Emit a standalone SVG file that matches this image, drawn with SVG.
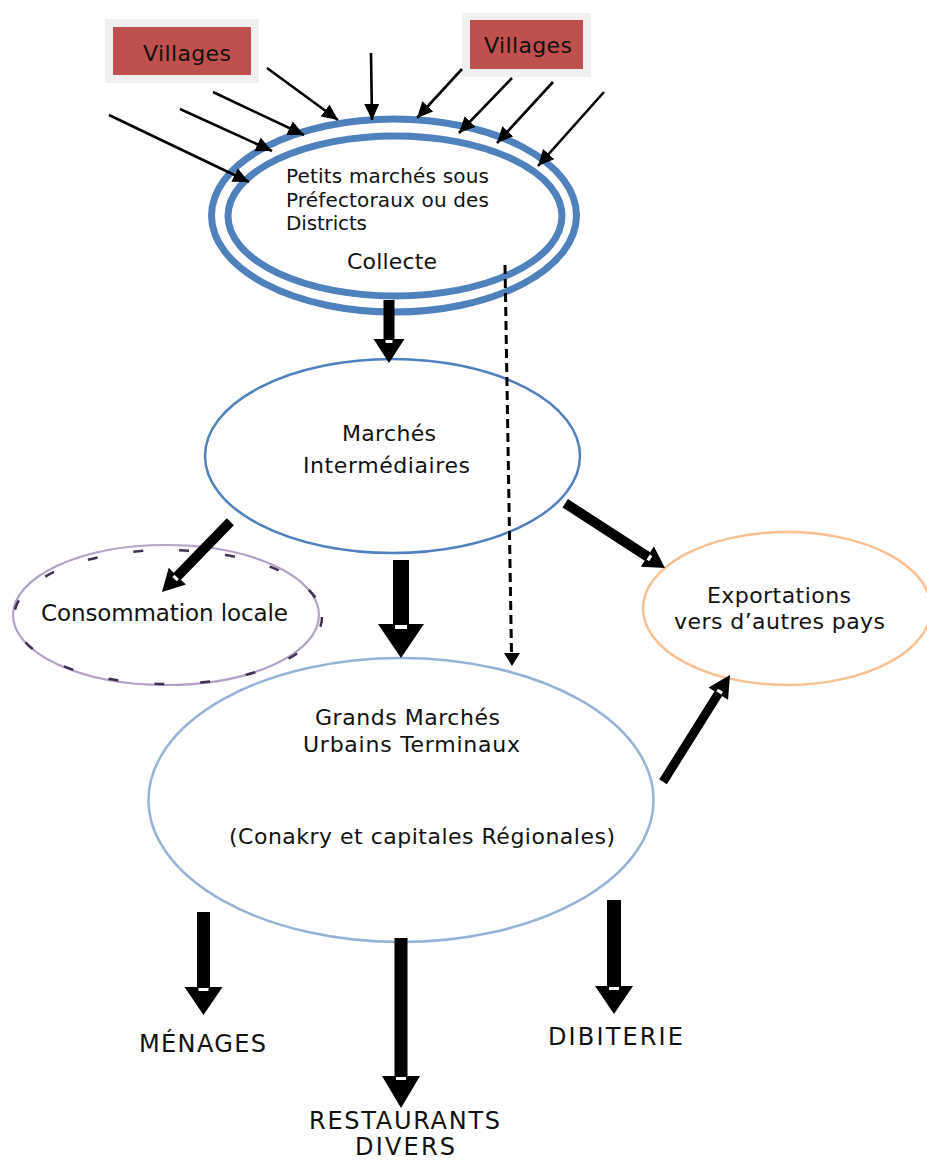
<svg xmlns="http://www.w3.org/2000/svg" width="927" height="1160" viewBox="0 0 927 1160">
<style>
text{font-family:"DejaVu Sans","Liberation Sans",sans-serif;fill:#111;}
.thin{stroke:#000;stroke-width:2.6;fill:none;}
.blk{fill:#000;}
.wm{fill:#fff;}
</style>
<defs>
<marker id="ah" markerUnits="userSpaceOnUse" markerWidth="20" markerHeight="18" refX="16" refY="7.5" orient="auto">
<path d="M0,0 L16,7.5 L0,15 Z" fill="#000"/>
</marker>
</defs>
<rect width="927" height="1160" fill="#fff"/>

<g id="villages1">
<rect x="105" y="19" width="154" height="64" fill="#f0f0f0"/>
<rect x="113" y="27" width="138" height="48" fill="#c0504d"/>
<text x="143" y="61" font-size="22" textLength="88">Villages</text>
</g>
<g id="villages2">
<rect x="462" y="13" width="129" height="64" fill="#f0f0f0"/>
<rect x="470" y="20" width="113" height="49" fill="#c0504d"/>
<text x="484" y="53" font-size="22" textLength="88">Villages</text>
</g>

<g id="collecte">
<ellipse cx="394" cy="215.5" rx="182.5" ry="96.5" fill="#fff" stroke="#4f81bd" stroke-width="7"/>
<ellipse cx="395" cy="216" rx="167" ry="80" fill="#fff" stroke="#4f81bd" stroke-width="7"/>
<text x="286" y="183" font-size="20" textLength="203">Petits marchés sous</text>
<text x="286" y="207" font-size="20" textLength="203">Préfectoraux ou des</text>
<text x="286" y="230" font-size="20" textLength="81">Districts</text>
<text x="347" y="269" font-size="22" textLength="90">Collecte</text>
</g>

<g id="intermediaires">
<ellipse cx="392.5" cy="456" rx="187.5" ry="97" fill="#fff" stroke="#4f81bd" stroke-width="2.5"/>
<text x="342" y="441" font-size="22" textLength="94">Marchés</text>
<text x="303" y="473" font-size="22" textLength="167">Intermédiaires</text>
</g>

<g id="consommation">
<ellipse cx="166" cy="615" rx="153" ry="70" fill="#fff" stroke="#b3a2c7" stroke-width="2.2"/>
<ellipse cx="168" cy="617" rx="154" ry="67" fill="none" stroke="#3f3151" stroke-width="2.5" stroke-dasharray="10 36"/>
<text x="41" y="621" font-size="23" textLength="247">Consommation locale</text>
</g>

<g id="exportations">
<ellipse cx="787" cy="608.5" rx="144" ry="76.5" fill="#fff" stroke="#fac090" stroke-width="2.5"/>
<text x="707" y="603" font-size="22" textLength="144">Exportations</text>
<text x="674" y="629" font-size="22" textLength="211">vers d’autres pays</text>
</g>

<g id="grands">
<ellipse cx="401" cy="800" rx="252.5" ry="142" fill="#fff" stroke="#95b3d7" stroke-width="2.5"/>
<text x="315" y="725" font-size="22" textLength="185">Grands Marchés</text>
<text x="303" y="752" font-size="22" textLength="217">Urbains Terminaux</text>
<text x="229" y="844" font-size="22" textLength="386">(Conakry et capitales Régionales)</text>
</g>

<g id="menages"><text x="139" y="1052" font-size="24" textLength="127">MÉNAGES</text></g>
<g id="restaurants">
<text x="309" y="1129" font-size="24" textLength="191">RESTAURANTS</text>
<text x="355" y="1155" font-size="24" textLength="100">DIVERS</text>
</g>
<g id="dibiterie"><text x="548" y="1045" font-size="24" textLength="135">DIBITERIE</text></g>

<g id="connectors">
<line class="thin" x1="109" y1="115" x2="249" y2="182" marker-end="url(#ah)"/>
<line class="thin" x1="180" y1="109" x2="272" y2="151" marker-end="url(#ah)"/>
<line class="thin" x1="213" y1="92" x2="304" y2="135" marker-end="url(#ah)"/>
<line class="thin" x1="267" y1="68" x2="338" y2="120" marker-end="url(#ah)"/>
<line class="thin" x1="371" y1="53" x2="372" y2="120" marker-end="url(#ah)"/>
<line class="thin" x1="462" y1="69" x2="417" y2="118" marker-end="url(#ah)"/>
<line class="thin" x1="512" y1="78" x2="459" y2="133" marker-end="url(#ah)"/>
<line class="thin" x1="553" y1="82" x2="497" y2="143" marker-end="url(#ah)"/>
<line class="thin" x1="604" y1="92" x2="538" y2="166" marker-end="url(#ah)"/>
<!-- collecte -> intermediaires -->
<g transform="translate(389,363) rotate(90)">
<polygon class="blk" points="-63,-5.5 -24,-5.5 -24,-15.5 0,0 -24,15.5 -24,5.5 -63,5.5"/>
<rect class="wm" x="-23" y="-3.5" width="3" height="7"/>
</g>
<!-- intermediaires -> grands -->
<g transform="translate(401,658) rotate(90)">
<polygon class="blk" points="-98,-8 -34,-8 -34,-23 0,0 -34,23 -34,8 -98,8"/>
<rect class="wm" x="-33" y="-6" width="4" height="12"/>
</g>
<!-- intermediaires -> consommation -->
<g transform="translate(162,592) rotate(134.2)">
<polygon class="blk" points="-98,-5 -22,-5 -22,-12 0,0 -22,12 -22,5 -98,5"/>
<rect class="wm" x="-21" y="-3" width="3" height="6"/>
</g>
<!-- intermediaires -> exportations -->
<g transform="translate(665,568) rotate(33)">
<polygon class="blk" points="-119,-5 -21,-5 -21,-12 0,0 -21,12 -21,5 -119,5"/>
<rect class="wm" x="-20" y="-3" width="3" height="6"/>
</g>
<!-- grands -> exportations -->
<g transform="translate(730,675) rotate(-57.9)">
<polygon class="blk" points="-126,-4.5 -22,-4.5 -22,-11.5 0,0 -22,11.5 -22,4.5 -126,4.5"/>
<rect class="wm" x="-21" y="-3" width="3" height="6"/>
</g>
<!-- grands -> menages -->
<g transform="translate(203.5,1015) rotate(90)">
<polygon class="blk" points="-103,-6.5 -28,-6.5 -28,-19 0,0 -28,19 -28,6.5 -103,6.5"/>
<rect class="wm" x="-27" y="-5" width="3" height="10"/>
</g>
<!-- grands -> restaurants -->
<g transform="translate(401,1108) rotate(90)">
<polygon class="blk" points="-170,-6.5 -32,-6.5 -32,-19 0,0 -32,19 -32,6.5 -170,6.5"/>
<rect class="wm" x="-31" y="-5" width="3" height="10"/>
</g>
<!-- grands -> dibiterie -->
<g transform="translate(614,1014) rotate(90)">
<polygon class="blk" points="-114,-7 -28,-7 -28,-19 0,0 -28,19 -28,7 -114,7"/>
<rect class="wm" x="-27" y="-5" width="3" height="10"/>
</g>
<!-- dashed collecte -> grands -->
<line x1="505" y1="265" x2="511.5" y2="653" stroke="#000" stroke-width="3" stroke-dasharray="9 5"/>
<polygon class="blk" points="504,653 520,653 512,666"/>
</g>
</svg>
